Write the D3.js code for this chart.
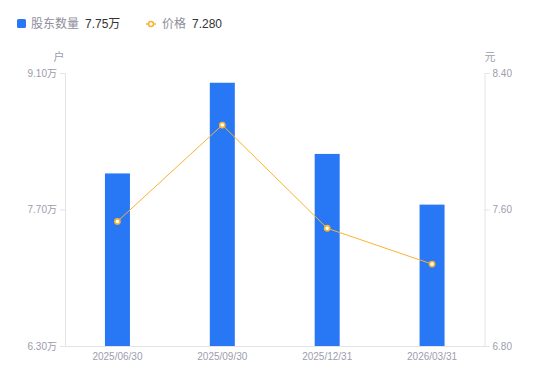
<!DOCTYPE html>
<html><head><meta charset="utf-8">
<script src="https://cdn.jsdelivr.net/npm/d3@7"></script>
<style>
body{margin:0;background:#fff;}
svg{display:block;font-family:"Noto Sans CJK SC","Liberation Sans",sans-serif;}
</style></head>
<body>
<svg id="c" width="550" height="381"></svg>
<script>
const categories = ["2025/06/30","2025/09/30","2025/12/31","2026/03/31"];
const holders = [8.07, 9.00, 8.27, 7.75]; // 万户
const prices = [7.53, 8.095, 7.49, 7.28];
const leftTicks = [6.30, 7.70, 9.10];
const rightTicks = [6.80, 7.60, 8.40];

const svg = d3.select("#c");
const L = 65, R = 484.5, T = 73, B = 346;
const x = d3.scaleBand().domain(categories).range([L, R]);
const yL = d3.scaleLinear().domain([6.30, 9.10]).range([B, T]);
const yR = d3.scaleLinear().domain([6.80, 8.40]).range([B, T]);

const axisColor = "#e3e3e8", labelColor = "#9d9dad";

// left axis
const gl = svg.append("g").attr("transform", `translate(${L},0)`)
  .call(d3.axisLeft(yL).tickValues(leftTicks).tickSize(5).tickPadding(3).tickFormat(d => d.toFixed(2) + "万"));
// right axis
const gr = svg.append("g").attr("transform", `translate(${R},0)`)
  .call(d3.axisRight(yR).tickValues(rightTicks).tickSize(5).tickPadding(3).tickFormat(d => d.toFixed(2)));
// bottom axis
const gb = svg.append("g").attr("transform", `translate(0,${B})`)
  .call(d3.axisBottom(x).tickSize(0).tickPadding(7));
[gl, gr, gb].forEach(g => {
  g.selectAll("path.domain").attr("stroke", axisColor);
  g.selectAll(".tick line").attr("stroke", axisColor);
  g.selectAll("text").attr("fill", labelColor).style("font-size", "10px")
    .style("font-family", "'Liberation Sans','Noto Sans CJK SC',sans-serif");
});

// axis titles
svg.append("text").attr("x", 59).attr("y", 61).attr("text-anchor", "middle")
  .attr("fill", labelColor).style("font-size", "11px").text("户");
svg.append("text").attr("x", 490).attr("y", 61).attr("text-anchor", "middle")
  .attr("fill", labelColor).style("font-size", "11px").text("元");

// bars
const bw = 25;
svg.append("g").selectAll("rect").data(holders).join("rect")
  .attr("x", (d, i) => x(categories[i]) + x.bandwidth() / 2 - bw / 2)
  .attr("width", bw)
  .attr("y", d => yL(d))
  .attr("height", d => B - yL(d))
  .attr("fill", "#2878f6");

// line
const orange = "#f8b331";
const line = d3.line().x((d, i) => x(categories[i]) + x.bandwidth() / 2).y(d => yR(d));
svg.append("path").datum(prices).attr("d", line).attr("fill", "none")
  .attr("stroke", orange).attr("stroke-width", 1);
svg.append("g").selectAll("circle").data(prices).join("circle")
  .attr("cx", (d, i) => x(categories[i]) + x.bandwidth() / 2)
  .attr("cy", d => yR(d)).attr("r", 2.6)
  .attr("fill", "#fff").attr("stroke", orange).attr("stroke-width", 1.6);

// legend
const lg = svg.append("g");
lg.append("rect").attr("x", 17).attr("y", 19).attr("width", 9).attr("height", 9).attr("rx", 1.5).attr("fill", "#2878f6");
lg.append("text").attr("x", 31).attr("y", 28).attr("fill", "#8e8e9c").style("font-size", "12px").text("股东数量");
lg.append("text").attr("x", 85).attr("y", 28).attr("fill", "#333").style("font-size", "12px")
  .style("font-family", "'Liberation Sans','Noto Sans CJK SC',sans-serif").text(holders[3].toFixed(2) + "万");
lg.append("line").attr("x1", 146).attr("x2", 156).attr("y1", 24).attr("y2", 24).attr("stroke", orange).attr("stroke-width", 1.5);
lg.append("circle").attr("cx", 151).attr("cy", 24).attr("r", 2.5).attr("fill", "#fff").attr("stroke", orange).attr("stroke-width", 1.5);
lg.append("text").attr("x", 162).attr("y", 28).attr("fill", "#8e8e9c").style("font-size", "12px").text("价格");
lg.append("text").attr("x", 192).attr("y", 28).attr("fill", "#333").style("font-size", "12px")
  .style("font-family", "'Liberation Sans','Noto Sans CJK SC',sans-serif").text(prices[3].toFixed(3));
</script>
</body></html>
